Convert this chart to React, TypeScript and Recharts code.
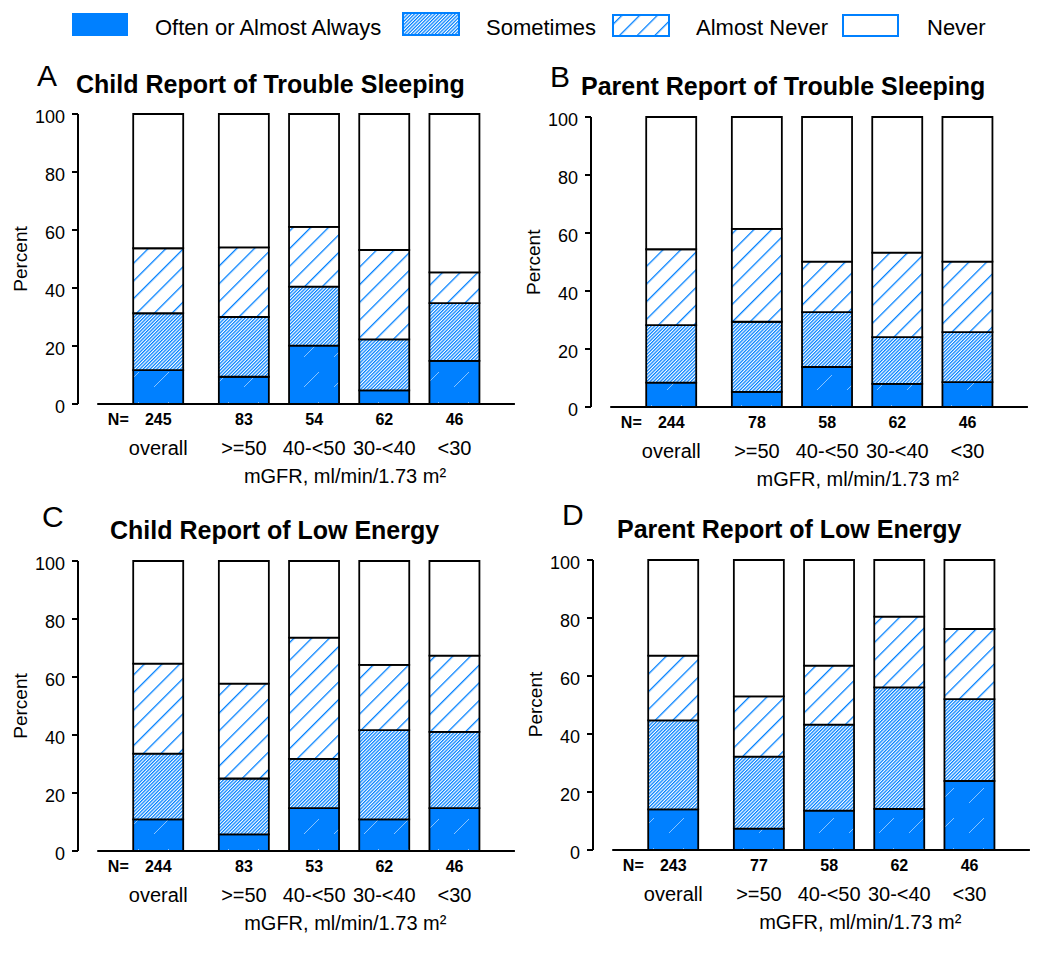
import React from "react";
import { BarChart, Bar, XAxis, YAxis, ReferenceLine } from "recharts";

const categories = ["overall", ">=50", "40-<50", "30-<40", "<30"];
const yTicks = [0, 20, 40, 60, 80, 100];

// Panel A: Child Report of Trouble Sleeping
const nA = [245, 83, 54, 62, 46];
const oftenA = [11.7, 9.4, 20.1, 4.7, 14.9];
const sometimesA = [19.6, 20.6, 20.4, 17.6, 19.9];
const almostNeverA = [22.4, 24.0, 20.6, 30.8, 10.6];
const neverA = [46.3, 46.0, 38.9, 46.9, 54.6];

// Panel B: Parent Report of Trouble Sleeping
const nB = [244, 78, 58, 62, 46];
const oftenB = [8.4, 5.2, 13.8, 8.0, 8.6];
const sometimesB = [19.8, 24.2, 18.9, 16.1, 17.2];
const almostNeverB = [26.2, 32.0, 17.4, 29.1, 24.3];
const neverB = [45.6, 38.6, 49.9, 46.8, 49.9];

// Panel C: Child Report of Low Energy
const nC = [244, 83, 53, 62, 46];
const oftenC = [10.9, 5.7, 14.8, 10.9, 14.8];
const sometimesC = [22.7, 19.3, 17.0, 30.8, 26.3];
const almostNeverC = [31.0, 32.7, 41.8, 22.5, 26.3];
const neverC = [35.4, 42.3, 26.4, 35.8, 32.6];

// Panel D: Parent Report of Low Energy
const nD = [243, 77, 58, 62, 46];
const oftenD = [14.0, 7.4, 13.6, 14.2, 23.8];
const sometimesD = [30.7, 24.8, 29.6, 41.9, 28.2];
const almostNeverD = [22.3, 20.8, 20.4, 24.4, 24.2];
const neverD = [33.0, 47.0, 36.4, 19.5, 23.8];

const legendItems = ["Often or Almost Always", "Sometimes", "Almost Never", "Never"];

const FONT = "'Liberation Sans', Arial, Helvetica, sans-serif";
const BLUE = "#0080FF";
const GAP = 0.22;
const positions = categories.map((_, i) => (i === 0 ? 0 : i + GAP));
const X_DOMAIN: [number, number] = [-1.144, 5.124];

function buildRows(often: number[], some: number[], an: number[], never: number[]) {
  return categories.map((c, i) => ({
    pos: positions[i],
    label: c,
    often: often[i],
    sometimes: some[i],
    almostNever: an[i],
    never: never[i],
  }));
}

const panels = [
  { key: "A", letter: "A", title: "Child Report of Trouble Sleeping", y0: 78, top: 114,
    letterPos: [37, 86], titlePos: [76, 93], n: nA, rows: buildRows(oftenA, sometimesA, almostNeverA, neverA) },
  { key: "B", letter: "B", title: "Parent Report of Trouble Sleeping", y0: 590.7, top: 117.3,
    letterPos: [550, 87], titlePos: [581, 95], n: nB, rows: buildRows(oftenB, sometimesB, almostNeverB, neverB) },
  { key: "C", letter: "C", title: "Child Report of Low Energy", y0: 78.3, top: 561,
    letterPos: [42, 527], titlePos: [110, 539], n: nC, rows: buildRows(oftenC, sometimesC, almostNeverC, neverC) },
  { key: "D", letter: "D", title: "Parent Report of Low Energy", y0: 593.3, top: 559.5,
    letterPos: [562, 525], titlePos: [617, 538], n: nD, rows: buildRows(oftenD, sometimesD, almostNeverD, neverD) },
];

const CH_W = 520;
const CH_H = 440;
const M_LEFT = 18;
const Y_W = 60;
const M_TOP = 54;
const PLOT_W = 440;
const PLOT_H = 290;

function nearestIndex(v: number) {
  let best = 0;
  positions.forEach((p, i) => {
    if (Math.abs(p - v) < Math.abs(positions[best] - v)) best = i;
  });
  return best;
}

const makeXTick = (nvals: number[]) => (props: any) => {
  const { x, y, payload } = props;
  const i = nearestIndex(payload.value);
  return (
    <g>
      {i === 0 && (
        <text x={x - 40} y={y + 21} textAnchor="middle" fontFamily={FONT} fontWeight="bold" fontSize={16} fill="#000">
          N=
        </text>
      )}
      <text x={x} y={y + 21} textAnchor="middle" fontFamily={FONT} fontWeight="bold" fontSize={16} fill="#000">
        {nvals[i]}
      </text>
      <text x={x} y={y + 51} textAnchor="middle" fontFamily={FONT} fontSize={20} fill="#000">
        {categories[i]}
      </text>
    </g>
  );
};

const YTick = (props: any) => {
  const { x, y, payload } = props;
  return (
    <text x={x} y={y + 9} textAnchor="end" fontFamily={FONT} fontSize={18} fill="#000">
      {payload.value}
    </text>
  );
};

function Panel({ p }: { p: (typeof panels)[number] }) {
  const left = p.y0 - (M_LEFT + Y_W);
  const top = p.top - M_TOP;
  return (
    <div style={{ position: "absolute", left, top, width: CH_W, height: CH_H }}>
      <BarChart
        width={CH_W}
        height={CH_H}
        data={p.rows}
        margin={{ top: M_TOP, left: M_LEFT, right: CH_W - M_LEFT - Y_W - PLOT_W, bottom: CH_H - M_TOP - PLOT_H - 80 }}
        barSize={50}
      >
        <XAxis
          type="number"
          dataKey="pos"
          domain={X_DOMAIN}
          ticks={positions}
          interval={0}
          axisLine={false}
          tickLine={false}
          tickSize={0}
          tickMargin={0}
          height={80}
          tick={makeXTick(p.n)}
          allowDataOverflow
        />
        <YAxis
          type="number"
          domain={[0, 100]}
          ticks={yTicks}
          width={Y_W}
          axisLine={{ stroke: "#000", strokeWidth: 2 }}
          tickLine={{ stroke: "#000", strokeWidth: 2 }}
          tickSize={6}
          tickMargin={7}
          tick={<YTick />}
          interval={0}
        />
        <Bar dataKey="often" stackId="s" fill="url(#pOften)" stroke="#000" strokeWidth={1.8} isAnimationActive={false} />
        <Bar dataKey="sometimes" stackId="s" fill="url(#pSome)" stroke="#000" strokeWidth={1.8} isAnimationActive={false} />
        <Bar dataKey="almostNever" stackId="s" fill="url(#pAN)" stroke="#000" strokeWidth={1.8} isAnimationActive={false} />
        <Bar dataKey="never" stackId="s" fill="#FFFFFF" stroke="#000" strokeWidth={1.8} isAnimationActive={false} />
        <ReferenceLine
          segment={[
            { x: -0.87, y: 0 },
            { x: 5.08, y: 0 },
          ]}
          stroke="#000"
          strokeWidth={2}
        />
      </BarChart>
    </div>
  );
}

function Overlay() {
  const swatches = [
    { x: 72, y: 13, w: 56, h: 23, fill: BLUE, stroke: "none", tx: 155 },
    { x: 403, y: 13, w: 56, h: 22, fill: "url(#pSome)", stroke: BLUE, tx: 486 },
    { x: 613, y: 15, w: 56, h: 21, fill: "url(#pAN)", stroke: BLUE, tx: 696 },
    { x: 843, y: 15, w: 55, h: 21, fill: "#FFFFFF", stroke: BLUE, tx: 927 },
  ];
  return (
    <svg width={1050} height={953} style={{ position: "absolute", left: 0, top: 0, pointerEvents: "none" }}>
      <defs>
        <pattern id="pOften" patternUnits="userSpaceOnUse" width={30} height={30}>
          <rect x={0} y={0} width={30} height={30} fill={BLUE} />
          <line x1={4} y1={27} x2={19} y2={12} stroke="#FFFFFF" strokeOpacity={0.6} strokeWidth={0.9} />
        </pattern>
        <pattern id="pSome" patternUnits="userSpaceOnUse" width={2.4} height={2.4} patternTransform="rotate(45)">
          <rect x={0} y={0} width={2.4} height={2.4} fill="#FFFFFF" />
          <rect x={0} y={0} width={1.25} height={2.4} fill={BLUE} />
        </pattern>
        <pattern id="pAN" patternUnits="userSpaceOnUse" width={12.5} height={12.5} patternTransform="rotate(45)">
          <rect x={0} y={0} width={12.5} height={12.5} fill="#FFFFFF" />
          <rect x={0} y={0} width={1.3} height={12.5} fill={BLUE} />
        </pattern>
      </defs>
      {swatches.map((s, i) => (
        <g key={i}>
          <rect x={s.x} y={s.y} width={s.w} height={s.h} fill={s.fill} stroke={s.stroke} strokeWidth={2} />
          <text x={s.tx} y={35} fontFamily={FONT} fontSize={22} fill="#000">
            {legendItems[i]}
          </text>
        </g>
      ))}
      {panels.map((p) => (
        <g key={p.key}>
          <text x={p.letterPos[0]} y={p.letterPos[1]} fontFamily={FONT} fontSize={30} fill="#000">
            {p.letter}
          </text>
          <text x={p.titlePos[0]} y={p.titlePos[1]} fontFamily={FONT} fontWeight="bold" fontSize={25} fill="#000">
            {p.title}
          </text>
          <text
            x={p.y0 - 51}
            y={p.top + PLOT_H / 2}
            transform={`rotate(-90 ${p.y0 - 51} ${p.top + PLOT_H / 2})`}
            textAnchor="middle"
            fontFamily={FONT}
            fontSize={19}
            fill="#000"
          >
            Percent
          </text>
          <text x={p.y0 + 267} y={p.top + PLOT_H + 79} textAnchor="middle" fontFamily={FONT} fontSize={20} fill="#000">
            mGFR, ml/min/1.73 m²
          </text>
        </g>
      ))}
    </svg>
  );
}

export default function App() {
  return (
    <div style={{ position: "absolute", left: 0, top: 0, width: 1050, height: 953, background: "#FFFFFF" }}>
      {panels.map((p) => (
        <Panel key={p.key} p={p} />
      ))}
      <Overlay />
    </div>
  );
}
